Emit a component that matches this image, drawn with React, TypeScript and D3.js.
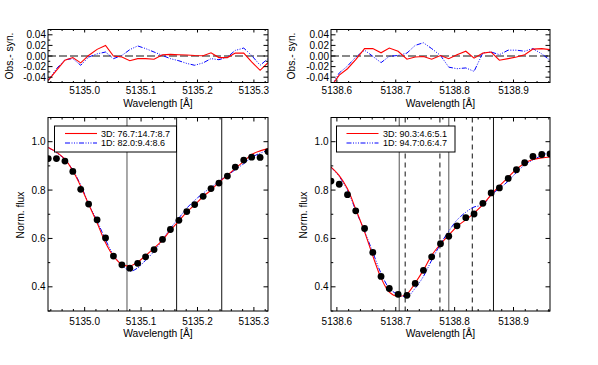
import React from "react";
import * as d3 from "d3";

// ---------- data ----------
const wlA = [5134.9355, 5134.950, 5134.965, 5134.979, 5134.993, 5135.007, 5135.022, 5135.037, 5135.051, 5135.066, 5135.080, 5135.094, 5135.108, 5135.123, 5135.138, 5135.152, 5135.167, 5135.181, 5135.195, 5135.210, 5135.224, 5135.238, 5135.253, 5135.267, 5135.282, 5135.296, 5135.311, 5135.325];
const obsA = [0.930, 0.930, 0.920, 0.877, 0.803, 0.742, 0.677, 0.602, 0.527, 0.491, 0.477, 0.497, 0.524, 0.554, 0.596, 0.637, 0.675, 0.711, 0.740, 0.774, 0.806, 0.829, 0.858, 0.895, 0.924, 0.936, 0.935, 0.959];
const res3DA = [-0.046, -0.027, -0.008, -0.003, -0.013, 0.001, 0.0125, 0.020, 0.000, -0.002, -0.009, -0.005, -0.005, -0.006, 0.0025, 0.003, 0.0025, 0.002, 0.001, 0.0006, 0.006, -0.003, -0.003, 0.0055, 0.0055, -0.011, -0.027, -0.0125];
const res1DA = [-0.046, -0.024, -0.007, -0.005, -0.0175, -0.002, 0.004, 0.0075, -0.005, 0.001, 0.012, 0.019, 0.014, 0.0075, 0.001, -0.005, -0.009, -0.014, -0.0175, -0.013, -0.005, -0.007, -0.002, 0.0105, 0.015, 0.001, -0.0175, -0.005];

const wlB = [5138.590, 5138.604, 5138.618, 5138.632, 5138.647, 5138.661, 5138.675, 5138.689, 5138.704, 5138.719, 5138.733, 5138.747, 5138.761, 5138.776, 5138.790, 5138.804, 5138.819, 5138.833, 5138.848, 5138.862, 5138.876, 5138.891, 5138.905, 5138.919, 5138.933, 5138.948, 5138.962];
const obsB = [0.837, 0.824, 0.781, 0.714, 0.641, 0.542, 0.443, 0.393, 0.369, 0.365, 0.414, 0.468, 0.524, 0.578, 0.609, 0.652, 0.686, 0.701, 0.745, 0.788, 0.809, 0.848, 0.884, 0.913, 0.939, 0.947, 0.949];
const res3DB = [-0.058, -0.036, -0.024, -0.007, 0.014, 0.014, 0.006, 0.015, 0.009, -0.006, -0.002, -0.001, -0.006, 0.001, -0.005, 0.0025, 0.009, -0.004, 0.0055, 0.0075, -0.008, -0.005, -0.002, 0.0025, 0.013, 0.014, 0.012];
const res1DB = [-0.058, -0.032, -0.019, -0.002, 0.011, -0.0006, -0.0125, -0.0006, 0.001, 0.0055, 0.020, 0.025, 0.014, 0.001, -0.021, -0.024, -0.0225, -0.029, 0.006, 0.0075, 0.0025, 0.011, 0.011, 0.009, 0.014, 0.004, -0.008];

const legendA = ["3D: 76.7:14.7:8.7", "1D: 82.0:9.4:8.6"];
const legendB = ["3D: 90.3:4.6:5.1", "1D: 94.7:0.6:4.7"];

// marker lines: [wavelength, style]
const linesA: [number, string][] = [[5135.075, "grey"], [5135.163, "black"], [5135.243, "black"]];
const linesB: [number, string][] = [[5138.706, "grey"], [5138.716, "dash"], [5138.775, "dash"], [5138.790, "grey"], [5138.830, "dash"], [5138.866, "black"]];

const xTicksA = [5135.0, 5135.1, 5135.2, 5135.3];
const xTicksB = [5138.6, 5138.7, 5138.8, 5138.9];
const resTicks = [-0.04, -0.02, 0.0, 0.02, 0.04];
const fluxTicks = [0.4, 0.6, 0.8, 1.0];

const FONT = "'Liberation Sans', Arial, Helvetica, sans-serif";
const RED = "#ff0000";
const BLUE = "#0000ff";
const BLUE_DASH = "5,1.5,1,1.5,1,1.5,1,1.5";

type Box = { x0: number; x1: number; y0: number; y1: number };

function stepRange(a: number, b: number, step: number) {
  const out: number[] = [];
  const n0 = Math.ceil(a / step - 1e-6);
  const n1 = Math.floor(b / step + 1e-6);
  for (let n = n0; n <= n1; n++) out.push(+(n * step).toFixed(6));
  return out;
}

function Ticks({ box, xs, ys, xMaj, xMin, yMaj, yMin, xLen, yLen }: any) {
  const els: any[] = [];
  const { x0, x1, y0, y1 } = box;
  xMin.forEach((v: number, i: number) => {
    const x = xs(v);
    const maj = xMaj.some((m: number) => Math.abs(m - v) < 1e-6);
    const L = maj ? xLen : xLen / 2;
    els.push(<line key={"xb" + i} x1={x} x2={x} y1={y1} y2={y1 - L} />);
    els.push(<line key={"xt" + i} x1={x} x2={x} y1={y0} y2={y0 + L} />);
  });
  yMin.forEach((v: number, i: number) => {
    const y = ys(v);
    const maj = yMaj.some((m: number) => Math.abs(m - v) < 1e-6);
    const L = maj ? yLen : yLen / 2;
    els.push(<line key={"yl" + i} x1={x0} x2={x0 + L} y1={y} y2={y} />);
    els.push(<line key={"yr" + i} x1={x1} x2={x1 - L} y1={y} y2={y} />);
  });
  return <g stroke="#000" strokeWidth={1}>{els}</g>;
}

function ResPanel({ box, domain, wl, r3, r1, xMaj, id, titleX }: any) {
  const xs = d3.scaleLinear().domain(domain).range([box.x0, box.x1]);
  const ys = d3.scaleLinear().domain([-0.05, 0.05]).range([box.y1, box.y0]);
  const line = d3.line<number>().x((_, i) => xs(wl[i])).y((d) => ys(d));
  const xMin = stepRange(domain[0], domain[1], 0.02);
  const yMin = stepRange(-0.05, 0.05, 0.01);
  return (
    <g>
      <defs>
        <clipPath id={id}>
          <rect x={box.x0} y={box.y0} width={box.x1 - box.x0} height={box.y1 - box.y0} />
        </clipPath>
      </defs>
      <g clipPath={`url(#${id})`}>
        <line x1={box.x0} x2={box.x1} y1={ys(0)} y2={ys(0)} stroke="#888" strokeWidth={1.8} strokeDasharray="8,3" />
        <path d={line(r1) || ""} fill="none" stroke={BLUE} strokeWidth={1} strokeDasharray={BLUE_DASH} />
        <path d={line(r3) || ""} fill="none" stroke={RED} strokeWidth={1.1} />
      </g>
      <Ticks box={box} xs={xs} ys={ys} xMaj={xMaj} xMin={xMin} yMaj={resTicks} yMin={yMin} xLen={3} yLen={4.5} />
      <rect x={box.x0} y={box.y0} width={box.x1 - box.x0} height={box.y1 - box.y0} fill="none" stroke="#000" strokeWidth={1} />
      <g fontFamily={FONT} fontSize={10} fill="#000">
        {resTicks.map((t) => (
          <text key={t} x={box.x0 - 2} y={ys(t) + 3.6} textAnchor="end">{t.toFixed(2)}</text>
        ))}
        {xMaj.map((t: number) => (
          <text key={t} x={xs(t)} y={box.y1 + 11.5} textAnchor="middle">{t.toFixed(1)}</text>
        ))}
      </g>
      <text x={(box.x0 + box.x1) / 2} y={box.y1 + 24.5} textAnchor="middle" fontFamily={FONT} fontSize={10.3}>Wavelength [Å]</text>
      <text transform={`translate(${titleX},${(box.y0 + box.y1) / 2}) rotate(-90)`} textAnchor="middle" fontFamily={FONT} fontSize={10.3}>Obs.- syn.</text>
    </g>
  );
}

function FluxPanel({ box, domain, wl, obs, r3, r1, xMaj, id, titleX, vlines, legend, leg }: any) {
  const xs = d3.scaleLinear().domain(domain).range([box.x0, box.x1]);
  const ys = d3.scaleLinear().domain([0.3, 1.1]).range([box.y1, box.y0]);
  const syn3 = obs.map((o: number, i: number) => o - r3[i]);
  const syn1 = obs.map((o: number, i: number) => o - r1[i]);
  const line = d3.line<number>().x((_, i) => xs(wl[i])).y((d) => ys(d)).curve(d3.curveCatmullRom.alpha(0.5));
  const xMin = stepRange(domain[0], domain[1], 0.02);
  const yMin = stepRange(0.3, 1.1, 0.1);
  return (
    <g>
      <defs>
        <clipPath id={id}>
          <rect x={box.x0} y={box.y0} width={box.x1 - box.x0} height={box.y1 - box.y0} />
        </clipPath>
      </defs>
      <g clipPath={`url(#${id})`}>
        {vlines.map(([w, s]: [number, string], i: number) => (
          <line key={i} x1={xs(w)} x2={xs(w)} y1={box.y0} y2={box.y1}
            stroke={s === "grey" ? "#7a7a7a" : "#111"} strokeWidth={s === "grey" ? 1.3 : 1}
            strokeDasharray={s === "dash" ? "5,4" : undefined} />
        ))}
        <path d={line(syn1) || ""} fill="none" stroke={BLUE} strokeWidth={1} strokeDasharray={BLUE_DASH} />
        <path d={line(syn3) || ""} fill="none" stroke={RED} strokeWidth={1.1} />
        {obs.map((o: number, i: number) => (
          <circle key={i} cx={xs(wl[i])} cy={ys(o)} r={3.4} fill="#000" />
        ))}
      </g>
      <Ticks box={box} xs={xs} ys={ys} xMaj={xMaj} xMin={xMin} yMaj={fluxTicks} yMin={yMin} xLen={4} yLen={4.5} />
      <rect x={box.x0} y={box.y0} width={box.x1 - box.x0} height={box.y1 - box.y0} fill="none" stroke="#000" strokeWidth={1} />
      {/* legend */}
      <rect x={leg.x} y={leg.y} width={leg.w} height={leg.h} fill="#fff" stroke="#000" strokeWidth={1} />
      <line x1={leg.lx0} x2={leg.lx1} y1={leg.y + 7.5} y2={leg.y + 7.5} stroke={RED} strokeWidth={1.1} />
      <line x1={leg.lx0} x2={leg.lx1} y1={leg.y + 17} y2={leg.y + 17} stroke={BLUE} strokeWidth={1} strokeDasharray={BLUE_DASH} />
      <g fontFamily={FONT} fontSize={9} fill="#000">
        <text x={leg.tx} y={leg.y + 10.7}>{legend[0]}</text>
        <text x={leg.tx} y={leg.y + 20.2}>{legend[1]}</text>
      </g>
      <g fontFamily={FONT} fontSize={10} fill="#000">
        {fluxTicks.map((t) => (
          <text key={t} x={box.x0 - 2.5} y={ys(t) + 3.6} textAnchor="end">{t.toFixed(1)}</text>
        ))}
        {xMaj.map((t: number) => (
          <text key={t} x={xs(t)} y={box.y1 + 14} textAnchor="middle">{t.toFixed(1)}</text>
        ))}
      </g>
      <text x={(box.x0 + box.x1) / 2} y={box.y1 + 25.5} textAnchor="middle" fontFamily={FONT} fontSize={10.3}>Wavelength [Å]</text>
      <text transform={`translate(${titleX},${215}) rotate(-90)`} textAnchor="middle" fontFamily={FONT} fontSize={10.3}>Norm. flux</text>
    </g>
  );
}

export default function App() {
  const topA: Box = { x0: 48, x1: 268, y0: 29.5, y1: 82.5 };
  const botA: Box = { x0: 48, x1: 268, y0: 117.5, y1: 311 };
  const topB: Box = { x0: 331, x1: 550, y0: 29.5, y1: 82.5 };
  const botB: Box = { x0: 331, x1: 550, y0: 117.5, y1: 311 };
  const domA = [5134.935, 5135.325];
  const domB = [5138.59, 5138.962];
  return (
    <svg width={598} height={365} style={{ position: "absolute", left: 0, top: 0, background: "#fff" }}>
      <rect width={598} height={365} fill="#fff" />
      <ResPanel box={topA} domain={domA} wl={wlA} r3={res3DA} r1={res1DA} xMaj={xTicksA} id="cA" titleX={12.5} />
      <ResPanel box={topB} domain={domB} wl={wlB} r3={res3DB} r1={res1DB} xMaj={xTicksB} id="cB" titleX={294.5} />
      <FluxPanel box={botA} domain={domA} wl={wlA} obs={obsA} r3={res3DA} r1={res1DA} xMaj={xTicksA} id="fA"
        titleX={23.5} vlines={linesA} legend={legendA}
        leg={{ x: 54.5, y: 126, w: 122, h: 26, lx0: 65, lx1: 97, tx: 101 }} />
      <FluxPanel box={botB} domain={domB} wl={wlB} obs={obsB} r3={res3DB} r1={res1DB} xMaj={xTicksB} id="fB"
        titleX={306.5} vlines={linesB} legend={legendB}
        leg={{ x: 336.5, y: 126, w: 118.5, h: 26, lx0: 346.5, lx1: 378.5, tx: 383 }} />
    </svg>
  );
}
